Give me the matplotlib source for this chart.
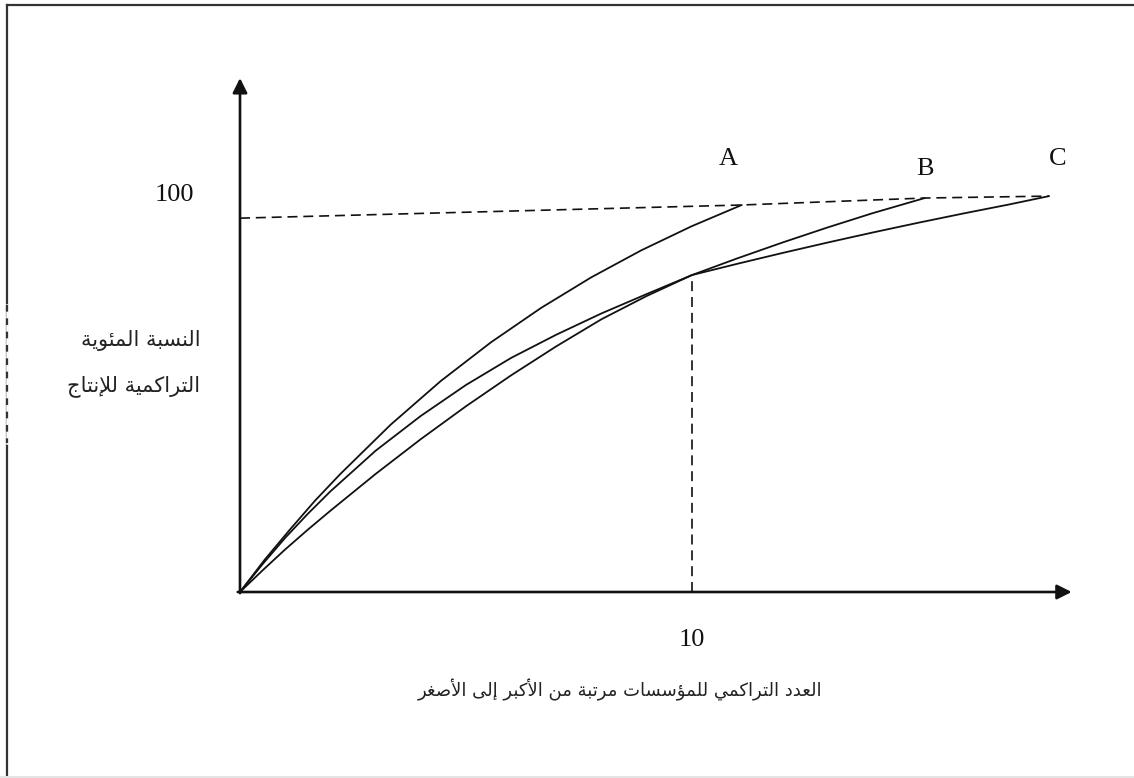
import matplotlib
matplotlib.use("Agg")
import matplotlib.pyplot as plt
from matplotlib.lines import Line2D

# cumulative share of output (%) against cumulative number of firms, largest first
a_x = [0, 0.55, 1.11, 1.66, 2.22, 3.33, 4.44, 5.55, 6.66, 7.77, 8.88, 9.99, 11.1]
a_y = [0, 8.4, 16.2, 23.6, 30.5, 43.2, 54.5, 64.5, 73.4, 81.3, 88.3, 94.5, 100]

b_x = [0, 0.5, 1, 1.5, 2, 3, 4, 5, 6, 7, 8, 9, 10, 11, 12, 13, 14, 15.15]
b_y = [0, 5.6, 11, 16.1, 21, 30.5, 39.5, 48, 56, 63.5, 70.5, 76.5, 81.9,
       86.2, 90.3, 94.2, 97.9, 101.8]

c_x = [0, 0.5, 1, 1.5, 2, 3, 4, 5, 6, 7, 8, 9, 10, 11, 12, 13, 14, 15, 16, 17, 17.9]
c_y = [0, 7.2, 14, 20.2, 26, 36.5, 45.5, 53.5, 60.5, 66.5, 72, 77, 81.9,
       84.8, 87.6, 90.3, 92.9, 95.4, 97.8, 100.1, 102.3]

# the "100" guide joining the curve ends
top_x = [0, 11.1, 15.15, 17.9]
top_y = [96.6, 100, 101.8, 102.3]

cross_x = 10
cross_y = 81.9

y_label_lines = ["النسبة المئوية", "التراكمية للإنتاج"]
x_label = "العدد التراكمي للمؤسسات مرتبة من الأكبر إلى الأصغر"

# --- minimal Arabic shaping (presentation forms B) --------------------------
# letter -> (isolated, final, initial, medial); two-form letters only join right
FORMS = {
    "ء": (0xFE80,), "آ": (0xFE81, 0xFE82), "أ": (0xFE83, 0xFE84),
    "ؤ": (0xFE85, 0xFE86), "إ": (0xFE87, 0xFE88),
    "ئ": (0xFE89, 0xFE8A, 0xFE8B, 0xFE8C), "ا": (0xFE8D, 0xFE8E),
    "ب": (0xFE8F, 0xFE90, 0xFE91, 0xFE92), "ة": (0xFE93, 0xFE94),
    "ت": (0xFE95, 0xFE96, 0xFE97, 0xFE98), "ث": (0xFE99, 0xFE9A, 0xFE9B, 0xFE9C),
    "ج": (0xFE9D, 0xFE9E, 0xFE9F, 0xFEA0), "ح": (0xFEA1, 0xFEA2, 0xFEA3, 0xFEA4),
    "خ": (0xFEA5, 0xFEA6, 0xFEA7, 0xFEA8), "د": (0xFEA9, 0xFEAA),
    "ذ": (0xFEAB, 0xFEAC), "ر": (0xFEAD, 0xFEAE), "ز": (0xFEAF, 0xFEB0),
    "س": (0xFEB1, 0xFEB2, 0xFEB3, 0xFEB4), "ش": (0xFEB5, 0xFEB6, 0xFEB7, 0xFEB8),
    "ص": (0xFEB9, 0xFEBA, 0xFEBB, 0xFEBC), "ض": (0xFEBD, 0xFEBE, 0xFEBF, 0xFEC0),
    "ط": (0xFEC1, 0xFEC2, 0xFEC3, 0xFEC4), "ظ": (0xFEC5, 0xFEC6, 0xFEC7, 0xFEC8),
    "ع": (0xFEC9, 0xFECA, 0xFECB, 0xFECC), "غ": (0xFECD, 0xFECE, 0xFECF, 0xFED0),
    "ف": (0xFED1, 0xFED2, 0xFED3, 0xFED4), "ق": (0xFED5, 0xFED6, 0xFED7, 0xFED8),
    "ك": (0xFED9, 0xFEDA, 0xFEDB, 0xFEDC), "ل": (0xFEDD, 0xFEDE, 0xFEDF, 0xFEE0),
    "م": (0xFEE1, 0xFEE2, 0xFEE3, 0xFEE4), "ن": (0xFEE5, 0xFEE6, 0xFEE7, 0xFEE8),
    "ه": (0xFEE9, 0xFEEA, 0xFEEB, 0xFEEC), "و": (0xFEED, 0xFEEE),
    "ى": (0xFEEF, 0xFEF0), "ي": (0xFEF1, 0xFEF2, 0xFEF3, 0xFEF4),
}
LAM_ALEF = {"آ": (0xFEF5, 0xFEF6), "أ": (0xFEF7, 0xFEF8),
            "إ": (0xFEF9, 0xFEFA), "ا": (0xFEFB, 0xFEFC)}


def joins_left(ch):
    return ch in FORMS and len(FORMS[ch]) == 4


def shape(text):
    out = []
    i = 0
    prev = None
    while i < len(text):
        ch = text[i]
        if ch not in FORMS:
            out.append(ch)
            prev = None
            i += 1
            continue
        from_prev = prev is not None and joins_left(prev)
        if ch == "ل" and i + 1 < len(text) and text[i + 1] in LAM_ALEF:
            lig = LAM_ALEF[text[i + 1]]
            out.append(chr(lig[1] if from_prev else lig[0]))
            prev = text[i + 1]
            i += 2
            continue
        nxt = text[i + 1] if i + 1 < len(text) else None
        to_next = joins_left(ch) and nxt in FORMS
        forms = FORMS[ch]
        if len(forms) == 1:
            code = forms[0]
        elif from_prev and to_next:
            code = forms[3]
        elif to_next:
            code = forms[2]
        elif from_prev:
            code = forms[1]
        else:
            code = forms[0]
        out.append(chr(code))
        prev = ch
        i += 1
    return "".join(out)[::-1]


# --- figure ------------------------------------------------------------------
W, H = 1134, 778
fig = plt.figure(figsize=(W / 100, H / 100), dpi=100)
ax = fig.add_axes([0, 0, 1, 1])
ax.axis("off")

# origin sits at pixel (240, 592); 45.2 px per firm, 3.87 px per percent
x0 = -240 / 45.2
y0 = -(H - 592) / 3.87
ax.set_xlim(x0, x0 + W / 45.2)
ax.set_ylim(y0, y0 + H / 3.87)

ink = "#111111"
dash = (0, (6, 3.5))

# axes with arrow heads
ax.annotate("", xy=(0, 132.8), xytext=(0, -0.3),
            arrowprops=dict(arrowstyle="-|>", lw=1.9, color=ink,
                            mutation_scale=22, shrinkA=0, shrinkB=0))
ax.annotate("", xy=(18.4, 0), xytext=(-0.05, 0),
            arrowprops=dict(arrowstyle="-|>", lw=1.9, color=ink,
                            mutation_scale=22, shrinkA=0, shrinkB=0))

for xs, ys in [(a_x, a_y), (b_x, b_y), (c_x, c_y)]:
    ax.plot(xs, ys, color=ink, lw=1.3, solid_capstyle="round",
            solid_joinstyle="round")

ax.plot(top_x, top_y, color=ink, lw=1.2, linestyle=dash)
ax.plot([cross_x, cross_x], [0, cross_y], color=ink, lw=1.2, linestyle=dash)

serif = "Liberation Serif"
ax.text(-1.45, top_y[0] + 5.9, "100", fontsize=19, family=serif,
        ha="center", va="center", color=ink)
ax.text(cross_x, -12.4, "10", fontsize=19, family=serif,
        ha="center", va="center", color=ink)
ax.text(a_x[-1] - 0.3, top_y[1] + 12.0, "A", fontsize=19, family=serif,
        ha="center", va="center", color=ink)
ax.text(b_x[-1], top_y[2] + 7.5, "B", fontsize=19, family=serif,
        ha="center", va="center", color=ink)
ax.text(c_x[-1] + 0.2, top_y[3] + 9.5, "C", fontsize=19, family=serif,
        ha="center", va="center", color=ink)

ax.text(-0.88, 65.0, shape(y_label_lines[0]), fontsize=15,
        family="DejaVu Sans", ha="right", va="center", color="#222222")
ax.text(-0.88, 53.3, shape(y_label_lines[1]), fontsize=15,
        family="DejaVu Sans", ha="right", va="center", color="#222222")
ax.text(8.4, -25.3, shape(x_label), fontsize=13,
        family="DejaVu Sans", ha="center", va="center", color="#222222")

# page frame
frame = "#333333"
fig.add_artist(Line2D([7 / W, 7 / W], [0, 1 - 5 / H], color=frame, lw=1.6))
fig.add_artist(Line2D([7 / W, 1], [1 - 5 / H, 1 - 5 / H], color=frame, lw=1.6))
fig.add_artist(Line2D([7 / W, 7 / W], [1 - 305 / H, 1 - 443 / H], color="white",
                      lw=1.8))
fig.add_artist(Line2D([7 / W, 7 / W], [1 - 305 / H, 1 - 443 / H], color=frame,
                      lw=1.6, linestyle=(0, (3, 3))))
fig.add_artist(Line2D([0, 1], [1.5 / H, 1.5 / H], color="#e4e4e4", lw=1.5))

fig.savefig("out.png", dpi=100)
